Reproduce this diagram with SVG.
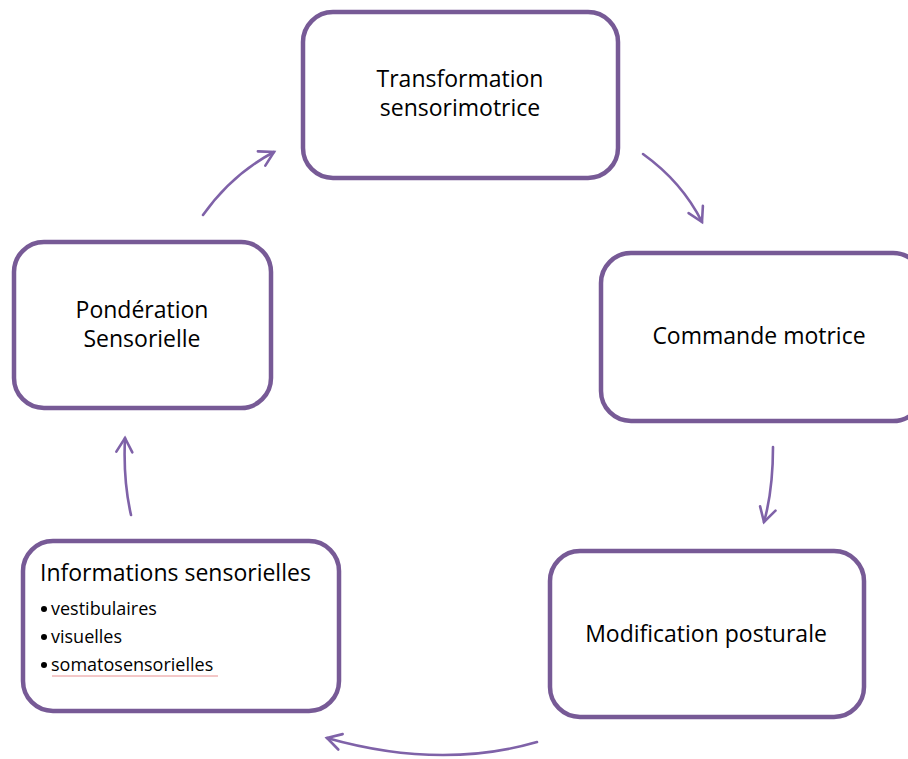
<svg xmlns="http://www.w3.org/2000/svg" width="908" height="759" viewBox="0 0 908 759">
<style>
.box{fill:#fff;stroke:#775a96;stroke-width:4.5}
.t{font-family:"Open Sans","Liberation Sans",sans-serif;font-size:23px;fill:#000;text-anchor:middle}
.tl{font-family:"Open Sans","Liberation Sans",sans-serif;font-size:23px;fill:#000}
.b{font-family:"Open Sans","Liberation Sans",sans-serif;font-size:18px;fill:#000}
.d{fill:#000}
.c{fill:none;stroke:#7f62a8;stroke-width:2.6;stroke-linecap:round}
</style>
<defs>
<marker id="ah" markerUnits="userSpaceOnUse" markerWidth="30" markerHeight="30" viewBox="-20 -15 30 30" refX="0" refY="0" orient="auto" overflow="visible">
<path d="M-14,-8 L0,0 L-14,8" fill="none" stroke="#7f62a8" stroke-width="2.6" stroke-linecap="round" stroke-linejoin="miter"/>
</marker>
</defs>
<rect width="908" height="759" fill="#fff"/>
<g id="connectors">
<path class="c" d="M203,215 Q232,174 274,152" marker-end="url(#ah)"/>
<path class="c" d="M643,154 Q682,182 702,222" marker-end="url(#ah)"/>
<path class="c" d="M773,447 Q773,490 764,522" marker-end="url(#ah)"/>
<path class="c" d="M537,742 Q440,770 327,738" marker-end="url(#ah)"/>
<path class="c" d="M131,515 Q123,480 125,438" marker-end="url(#ah)"/>
</g>
<g id="transformation">
<rect class="box" x="303" y="12" width="315" height="166" rx="30"/>
<text class="t" x="460" y="87">Transformation</text>
<text class="t" x="460" y="116">sensorimotrice</text>
</g>
<g id="commande">
<rect class="box" x="601" y="253" width="322" height="168" rx="30"/>
<text class="t" x="759" y="344">Commande motrice</text>
</g>
<g id="modification">
<rect class="box" x="550" y="551" width="314" height="166" rx="30"/>
<text class="t" x="706" y="642">Modification posturale</text>
</g>
<g id="informations">
<rect class="box" x="23" y="541" width="316" height="170" rx="30"/>
<text class="tl" x="40" y="581">Informations sensorielles</text>
<circle class="d" cx="44" cy="609" r="3"/><text class="b" x="51" y="615">vestibulaires</text>
<circle class="d" cx="44" cy="637" r="3"/><text class="b" x="51" y="643">visuelles</text>
<circle class="d" cx="44" cy="665" r="3"/><text class="b" x="51" y="671">somatosensorielles</text>
<path d="M52,676 L218,676" stroke="#e89090" stroke-width="1" fill="none"/>
</g>
<g id="ponderation">
<rect class="box" x="14" y="242" width="257" height="166" rx="30"/>
<text class="t" x="142" y="318">Pondération</text>
<text class="t" x="142" y="347">Sensorielle</text>
</g>
</svg>
